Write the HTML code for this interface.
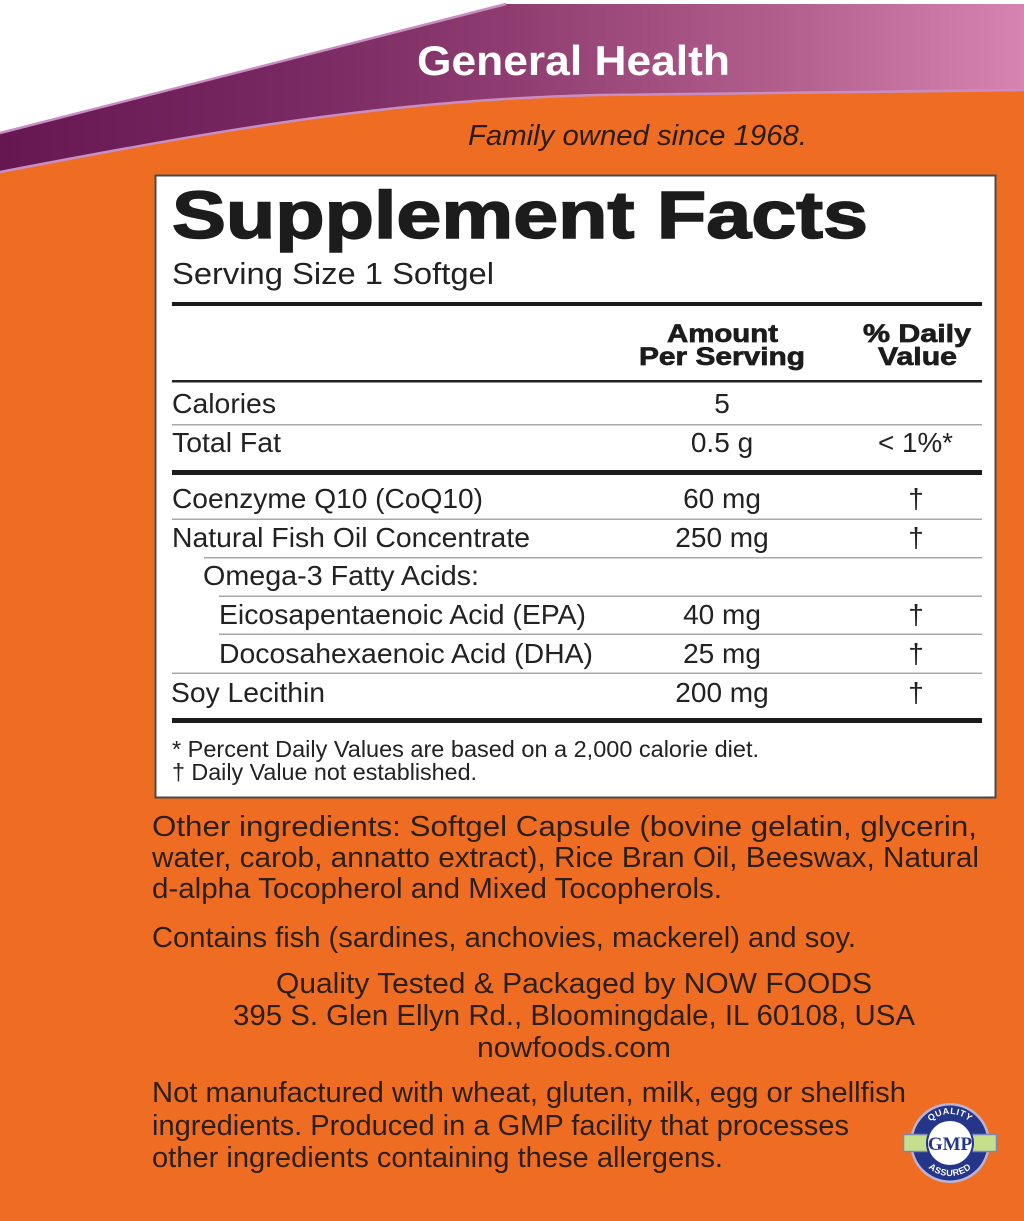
<!DOCTYPE html>
<html>
<head>
<meta charset="utf-8">
<style>
html,body{margin:0;padding:0;background:#ef6d23;}
svg{display:block;}
</style>
</head>
<body>
<svg width="1024" height="1221" viewBox="0 0 1024 1221" xmlns="http://www.w3.org/2000/svg" font-family="'Liberation Sans', Arial, sans-serif">
  <defs>
    <linearGradient id="pg" gradientUnits="userSpaceOnUse" x1="0" y1="0" x2="1024" y2="0">
      <stop offset="0" stop-color="#661651"/>
      <stop offset="0.3" stop-color="#7a2a62"/>
      <stop offset="0.5" stop-color="#8f3d71"/>
      <stop offset="0.78" stop-color="#b5618f"/>
      <stop offset="1" stop-color="#d784b2"/>
    </linearGradient>
    <path id="arcTop" d="M 921,1143 A 29,29 0 0 1 979,1143"/>
    <path id="arcBot" d="M 917,1143 A 33,33 0 0 0 983,1143"/>
  </defs>

  <!-- background -->
  <rect x="0" y="0" width="1024" height="1221" fill="#ef6d23"/>

  <!-- banner -->
  <polygon points="0,0 1024,0 1024,4 506,4 0,132" fill="#ffffff"/>
  <path d="M506,4 L1024,4 L1024,90 L600,95 C400,100 250,124 0,172 L0,132 Z" fill="url(#pg)"/>
  <line x1="0" y1="133" x2="506" y2="4" stroke="#c98dc3" stroke-width="2.5"/>
  <path d="M0,172 C250,124 400,100 600,95 L1024,90" fill="none" stroke="#c98dc3" stroke-width="2.5"/>

  <text x="417" y="75" font-size="42" font-weight="bold" fill="#ffffff" textLength="313" lengthAdjust="spacingAndGlyphs">General Health</text>
  <text x="468" y="145" font-size="29" font-style="italic" fill="#2a1c14" textLength="339" lengthAdjust="spacingAndGlyphs">Family owned since 1968.</text>

  <!-- facts box -->
  <rect x="155.5" y="175.5" width="840" height="622" fill="#ffffff" stroke="#4a4a4a" stroke-width="2"/>

  <text x="172" y="238" font-size="67" font-weight="bold" fill="#1c1c1c" stroke="#1c1c1c" stroke-width="1.6" textLength="696" lengthAdjust="spacingAndGlyphs">Supplement Facts</text>
  <text x="172" y="284" font-size="31" fill="#222" textLength="322" lengthAdjust="spacingAndGlyphs">Serving Size 1 Softgel</text>

  <rect x="172" y="302" width="810" height="4" fill="#1c1c1c"/>

  <g font-size="25" font-weight="bold" fill="#1c1c1c" stroke="#1c1c1c" stroke-width="0.7">
    <text x="667" y="342" textLength="111" lengthAdjust="spacingAndGlyphs">Amount</text>
    <text x="639" y="365" textLength="166" lengthAdjust="spacingAndGlyphs">Per Serving</text>
    <text x="863" y="342" textLength="108" lengthAdjust="spacingAndGlyphs">% Daily</text>
    <text x="878" y="365" textLength="79" lengthAdjust="spacingAndGlyphs">Value</text>
  </g>

  <rect x="172" y="380" width="810" height="2.5" fill="#222"/>

  <g font-size="28" fill="#222">
    <text x="172" y="413" textLength="104" lengthAdjust="spacingAndGlyphs">Calories</text>
    <text x="722" y="413" text-anchor="middle">5</text>

    <text x="172" y="452" textLength="109" lengthAdjust="spacingAndGlyphs">Total Fat</text>
    <text x="722" y="452" text-anchor="middle">0.5 g</text>
    <text x="878" y="452" textLength="75" lengthAdjust="spacingAndGlyphs">&lt; 1%*</text>

    <text x="172" y="508" textLength="311" lengthAdjust="spacingAndGlyphs">Coenzyme Q10 (CoQ10)</text>
    <text x="722" y="508" text-anchor="middle">60 mg</text>
    <text x="916" y="508" text-anchor="middle">†</text>

    <text x="172" y="547" textLength="358" lengthAdjust="spacingAndGlyphs">Natural Fish Oil Concentrate</text>
    <text x="722" y="547" text-anchor="middle">250 mg</text>
    <text x="916" y="547" text-anchor="middle">†</text>

    <text x="203" y="585" textLength="276" lengthAdjust="spacingAndGlyphs">Omega-3 Fatty Acids:</text>

    <text x="219" y="624" textLength="367" lengthAdjust="spacingAndGlyphs">Eicosapentaenoic Acid (EPA)</text>
    <text x="722" y="624" text-anchor="middle">40 mg</text>
    <text x="916" y="624" text-anchor="middle">†</text>

    <text x="219" y="663" textLength="374" lengthAdjust="spacingAndGlyphs">Docosahexaenoic Acid (DHA)</text>
    <text x="722" y="663" text-anchor="middle">25 mg</text>
    <text x="916" y="663" text-anchor="middle">†</text>

    <text x="171" y="702" textLength="154" lengthAdjust="spacingAndGlyphs">Soy Lecithin</text>
    <text x="722" y="702" text-anchor="middle">200 mg</text>
    <text x="916" y="702" text-anchor="middle">†</text>
  </g>

  <rect x="172" y="424" width="810" height="1.5" fill="#a8a8a8"/>
  <rect x="172" y="470" width="810" height="5" fill="#1c1c1c"/>
  <rect x="172" y="518.5" width="810" height="1.5" fill="#a8a8a8"/>
  <rect x="204" y="557" width="778" height="1.5" fill="#a8a8a8"/>
  <rect x="219" y="595.5" width="763" height="1.5" fill="#a8a8a8"/>
  <rect x="219" y="633.5" width="763" height="1.5" fill="#a8a8a8"/>
  <rect x="172" y="672.5" width="810" height="1.5" fill="#a8a8a8"/>
  <rect x="172" y="718" width="810" height="5" fill="#1c1c1c"/>

  <g font-size="23.5" fill="#222">
    <text x="172" y="757" textLength="587" lengthAdjust="spacingAndGlyphs">* Percent Daily Values are based on a 2,000 calorie diet.</text>
    <text x="172" y="780" textLength="305" lengthAdjust="spacingAndGlyphs">† Daily Value not established.</text>
  </g>

  <!-- below box text -->
  <g font-size="29" fill="#2b1f17">
    <text x="152" y="836" textLength="825" lengthAdjust="spacingAndGlyphs">Other ingredients: Softgel Capsule (bovine gelatin, glycerin,</text>
    <text x="152" y="867" textLength="827" lengthAdjust="spacingAndGlyphs">water, carob, annatto extract), Rice Bran Oil, Beeswax, Natural</text>
    <text x="152" y="898" textLength="570" lengthAdjust="spacingAndGlyphs">d-alpha Tocopherol and Mixed Tocopherols.</text>
    <text x="152" y="947" textLength="704" lengthAdjust="spacingAndGlyphs">Contains fish (sardines, anchovies, mackerel) and soy.</text>
    <text x="276" y="993" textLength="596" lengthAdjust="spacingAndGlyphs">Quality Tested &amp; Packaged by NOW FOODS</text>
    <text x="233" y="1025" textLength="682" lengthAdjust="spacingAndGlyphs">395 S. Glen Ellyn Rd., Bloomingdale, IL 60108, USA</text>
    <text x="477" y="1057" textLength="194" lengthAdjust="spacingAndGlyphs">nowfoods.com</text>
    <text x="152" y="1102" textLength="754" lengthAdjust="spacingAndGlyphs">Not manufactured with wheat, gluten, milk, egg or shellfish</text>
    <text x="152" y="1135" textLength="697" lengthAdjust="spacingAndGlyphs">ingredients. Produced in a GMP facility that processes</text>
    <text x="152" y="1167" textLength="571" lengthAdjust="spacingAndGlyphs">other ingredients containing these allergens.</text>
  </g>

  <!-- GMP logo -->
  <g>
    <circle cx="950" cy="1143" r="40" fill="#b9b4d6"/>
    <circle cx="950" cy="1143" r="37.5" fill="#24358a"/>
    <rect x="903.5" y="1134.5" width="93" height="17" fill="#c6df8c" stroke="#7b86b8" stroke-width="1.5"/>
    <circle cx="950" cy="1143" r="24" fill="#24358a"/>
    <circle cx="950" cy="1143" r="22" fill="#ffffff"/>
    <text x="950" y="1150" font-family="'Liberation Serif', serif" font-weight="bold" font-size="19" fill="#24358a" text-anchor="middle">GMP</text>
    <text font-size="9" font-weight="bold" fill="#ffffff" letter-spacing="0.5">
      <textPath href="#arcTop" startOffset="50%" text-anchor="middle">QUALITY</textPath>
    </text>
    <text font-size="9" font-weight="bold" fill="#ffffff" letter-spacing="0.5">
      <textPath href="#arcBot" startOffset="50%" text-anchor="middle">ASSURED</textPath>
    </text>
  </g>
</svg>
</body>
</html>
